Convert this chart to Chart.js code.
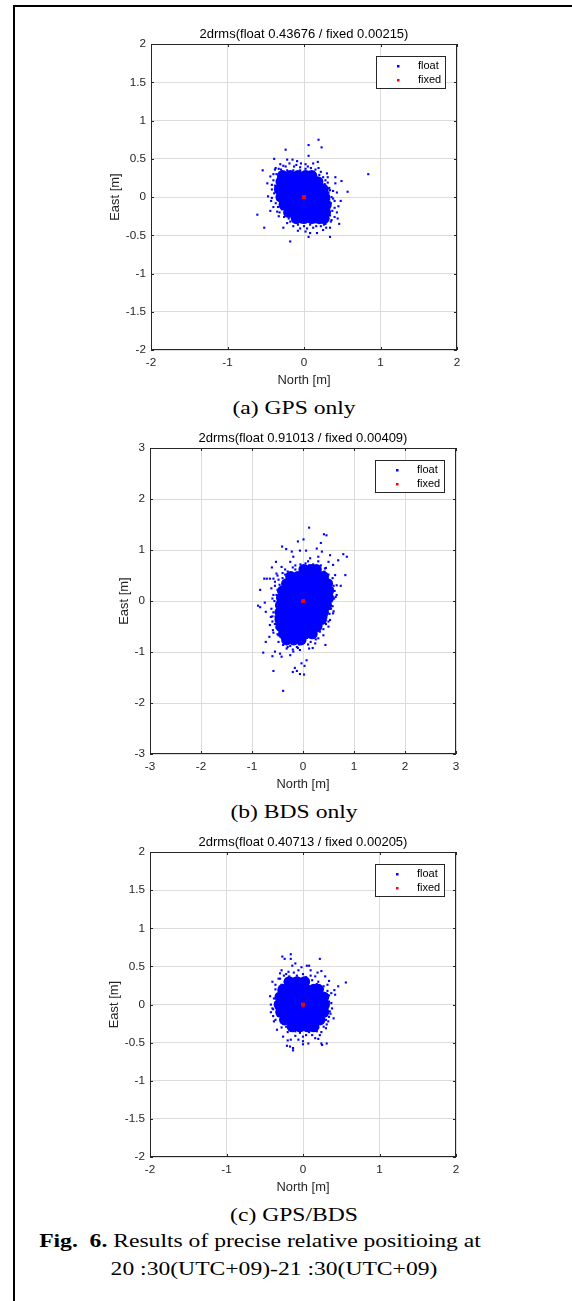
<!DOCTYPE html>
<html>
<head>
<meta charset="utf-8">
<title>Results of precise relative positioning</title>
<script src="https://cdn.jsdelivr.net/npm/chart.js@4.4.0/dist/chart.umd.min.js"></script>
<style>
  html, body { margin: 0; padding: 0; background: #fff; }
  body { width: 572px; height: 1301px; position: relative; overflow: hidden; }
  .frame { position: absolute; left: 13px; top: 5px; width: 700px; height: 1400px;
           border-left: 2px solid #000; border-top: 2px solid #000; }
  .plot { position: absolute; left: 0; width: 572px; }
  .cap { position: absolute; white-space: nowrap; color: #000;
         font-family: "Liberation Serif", "Times New Roman", serif;
         font-size: 19.5px; line-height: 19.5px;
         transform: translateX(-50%) scaleX(1.21); }
</style>
</head>
<body>
<div class="frame"></div>

<div class="plot" id="wrapGps"><canvas id="chartGps"></canvas></div>
<div class="cap" style="left:294px; top:398px;">(a) GPS only</div>

<div class="plot" id="wrapBds"><canvas id="chartBds"></canvas></div>
<div class="cap" style="left:294px; top:802px;">(b) BDS only</div>

<div class="plot" id="wrapComb"><canvas id="chartComb"></canvas></div>
<div class="cap" style="left:294px; top:1205px;">(c) GPS/BDS</div>

<div class="cap" style="left:260px; top:1231px;"><b>Fig.&nbsp; 6.</b> Results of precise relative positioing at</div>
<div class="cap" style="left:274px; top:1259px;">20 :30(UTC+09)-21 :30(UTC+09)</div>

<script>
// Scatter of float / fixed solutions, North vs East [m]

const legendLabels = ['float', 'fixed'];

// (a) GPS only
const gpsTitle = '2drms(float 0.43676 / fixed 0.00215)';
const gpsTicks = [-2, -1, 0, 1, 2];
const gpsYTicks = [-2, -1.5, -1, -0.5, 0, 0.5, 1, 1.5, 2];
// dense centre of the cloud
const gpsCore = [
  [-0.28, 0.28], [-0.18, 0.28], [-0.08, 0.28], [0.02, 0.28], [0.1, 0.28],
  [-0.3, 0.2], [-0.2, 0.2], [-0.1, 0.2], [0, 0.2], [0.1, 0.2], [0.18, 0.2],
  [-0.32, 0.1], [-0.22, 0.1], [-0.12, 0.1], [-0.02, 0.1], [0.08, 0.1], [0.18, 0.1], [0.25, 0.1],
  [-0.3, 0], [-0.2, 0], [-0.1, 0], [0, 0], [0.1, 0], [0.2, 0], [0.27, 0],
  [-0.26, -0.1], [-0.16, -0.1], [-0.06, -0.1], [0.04, -0.1], [0.14, -0.1], [0.24, -0.1], [0.29, -0.1],
  [-0.2, -0.2], [-0.1, -0.2], [0, -0.2], [0.1, -0.2], [0.2, -0.2], [0.28, -0.2],
  [-0.1, -0.28], [0, -0.28], [0.1, -0.28], [0.2, -0.28], [0.26, -0.28]
];
const gpsFloat = [
  [0.19, 0.75], [0.06, 0.68], [0.23, 0.65], [-0.24, 0.62], [0.06, 0.54], [0.84, 0.30],
  [-0.39, 0.50], [-0.54, 0.35], [-0.61, -0.23], [-0.52, -0.40], [-0.18, -0.58], [0.57, 0.07],
  [0.49, 0.21], [0.41, 0.26], [0.46, -0.35], [0.34, -0.52], [0.06, -0.52], [0.17, -0.47],
  [-0.27, -0.40], [0.18, 0.46], [-0.09, 0.47], [-0.15, 0.49], [-0.22, 0.49], [-0.04, 0.44],
  [0.02, 0.43], [0.30, 0.31], [0.31, 0.26], [0.41, 0.18], [0.43, 0.06], [0.40, -0.05],
  [0.40, -0.14], [0.40, -0.26], [0.34, -0.40], [0.25, -0.43], [0.02, -0.45], [-0.14, -0.38],
  [-0.33, -0.25], [-0.40, -0.13], [-0.47, 0.01], [-0.48, 0.18], [-0.44, 0.27], [-0.37, 0.38],
  [-0.31, 0.43], [0.08, -0.47], [-0.05, -0.41], [0.26, -0.36], [0.35, -0.32], [0.32, -0.20],
  [-0.42, 0.10], [-0.43, -0.05], [-0.35, -0.19], [-0.22, -0.34], [0.19, 0.38], [0.12, 0.44],
  [0.43, -0.2], [0.45, -0.12], [0.48, -0.05],
  [-0.36, 0.3], [-0.3, 0.36], [-0.24, 0.4], [-0.1, 0.42], [0.05, 0.4], [0.15, 0.36],
  [0.22, 0.33], [0.28, 0.22], [0.33, 0.12], [0.36, 0.0], [0.35, -0.08], [0.34, -0.24],
  [0.3, -0.3], [0.22, -0.38], [0.12, -0.4], [0.0, -0.38], [-0.08, -0.36], [-0.18, -0.32],
  [-0.26, -0.26], [-0.32, -0.2], [-0.37, -0.08], [-0.39, 0.05], [-0.38, 0.15], [-0.4, 0.22],
  [-0.33, 0.37], [-0.27, 0.41], [-0.19, 0.44], [-0.13, 0.40], [-0.05, 0.39], [0.02, 0.37],
  [0.09, 0.38], [0.13, 0.33], [0.2, 0.29], [0.25, 0.26], [0.27, 0.17], [0.31, 0.19],
  [0.32, 0.06], [0.34, 0.09], [0.33, -0.03], [0.38, -0.02], [0.33, -0.15], [0.37, -0.18],
  [0.32, -0.28], [0.36, -0.3], [0.28, -0.35], [0.2, -0.34], [0.16, -0.38], [0.08, -0.36],
  [0.04, -0.41], [-0.04, -0.33], [-0.1, -0.33], [-0.14, -0.3], [-0.2, -0.28], [-0.24, -0.22],
  [-0.29, -0.16], [-0.34, -0.13], [-0.35, -0.03], [-0.42, -0.01], [-0.35, 0.06], [-0.37, 0.12],
  [-0.42, 0.16], [-0.35, 0.2], [-0.34, 0.25], [-0.4, 0.3], [-0.3, 0.32], [-0.22, 0.35],
  [-0.14, 0.35], [-0.05, 0.35], [0.06, 0.33], [0.15, 0.28], [0.22, 0.21], [0.28, 0.15],
  [0.3, -0.06], [0.27, -0.24], [0.15, -0.33], [-0.16, -0.25], [-0.28, -0.1], [-0.33, 0.0],
  [-0.38, 0.36], [0.38, 0.08], [0.44, -0.28], [0.29, -0.4], [-0.08, -0.44], [-0.44, -0.18]
];
const gpsFixed = [[0, 0], [0.004, 0.003], [-0.003, -0.002]];

// (b) BDS only
const bdsTitle = '2drms(float 0.91013 / fixed 0.00409)';
const bdsTicks = [-3, -2, -1, 0, 1, 2, 3];
const bdsYTicks = [-3, -2, -1, 0, 1, 2, 3];
const bdsCore = [
  [0.02, 0.62], [0.16, 0.62], [0.26, 0.62],
  [-0.24, 0.48], [-0.1, 0.48], [0.04, 0.48], [0.18, 0.48], [0.32, 0.48], [0.4, 0.48],
  [-0.32, 0.34], [-0.18, 0.34], [-0.04, 0.34], [0.1, 0.34], [0.24, 0.34], [0.38, 0.34], [0.48, 0.34],
  [-0.4, 0.2], [-0.26, 0.2], [-0.12, 0.2], [0.02, 0.2], [0.16, 0.2], [0.3, 0.2], [0.44, 0.2], [0.5, 0.2],
  [-0.42, 0.06], [-0.28, 0.06], [-0.14, 0.06], [0, 0.06], [0.14, 0.06], [0.28, 0.06], [0.42, 0.06], [0.5, 0.06],
  [-0.44, -0.08], [-0.3, -0.08], [-0.16, -0.08], [-0.02, -0.08], [0.12, -0.08], [0.26, -0.08], [0.4, -0.08], [0.46, -0.08],
  [-0.45, -0.22], [-0.31, -0.22], [-0.17, -0.22], [-0.03, -0.22], [0.11, -0.22], [0.25, -0.22], [0.4, -0.22],
  [-0.45, -0.36], [-0.31, -0.36], [-0.17, -0.36], [-0.03, -0.36], [0.11, -0.36], [0.25, -0.36], [0.36, -0.36],
  [-0.43, -0.5], [-0.29, -0.5], [-0.15, -0.5], [-0.01, -0.5], [0.13, -0.5], [0.27, -0.5],
  [-0.38, -0.64], [-0.24, -0.64], [-0.1, -0.64], [0.04, -0.64], [0.18, -0.64],
  [-0.32, -0.76], [-0.18, -0.76], [-0.04, -0.76]
];
const bdsFloat = [
  [0.12, 1.44], [0.41, 1.31], [0.46, 1.29], [0.01, 1.21], [-0.10, 1.17], [-0.41, 1.07],
  [0.35, 1.14], [0.79, 0.92], [0.86, 0.87], [-0.33, 1.02], [-0.22, 0.97], [-0.06, 0.99],
  [0.06, 0.99], [0.27, 1.03], [0.37, 0.97], [0.53, 0.90], [0.69, 0.80], [-0.53, 0.77],
  [-0.42, 0.67], [-0.61, 0.66], [0.83, 0.51], [0.74, 0.30], [-0.76, 0.44], [-0.71, 0.44],
  [-0.65, 0.44], [-0.58, 0.44], [-0.84, 0.22], [-0.88, -0.09], [-0.84, -0.12], [-0.75, -0.03],
  [-0.73, -0.21], [0.66, 0.12], [0.61, 0.05], [0.59, -0.24], [0.53, -0.37], [0.50, -0.50],
  [0.44, -0.86], [0.30, -0.73], [0.19, -0.92], [0.07, -1.16], [-0.03, -1.22], [0.03, -1.27],
  [-0.16, -1.31], [-0.20, -1.39], [-0.12, -1.37], [-0.06, -1.43], [0.02, -1.44], [-0.58, -1.37],
  [-0.39, -1.76], [-0.78, -1.01], [-0.60, -1.08], [-0.55, -0.99], [-0.42, -1.09], [-0.45, -1.03],
  [-0.73, -0.80], [-0.66, -0.70], [-0.25, -1.06], [-0.19, -0.99], [-0.06, -0.96], [0.12, -0.93],
  [-0.32, -0.93], [-0.65, -0.47], [-0.59, -0.57], [-0.63, -0.31], [0.57, 0.25], [0.66, 0.31],
  [0.63, 0.51], [0.59, 0.71], [0.50, 0.77], [0.43, 0.64], [-0.55, 0.38], [-0.58, 0.12],
  [-0.52, 0.54], [-0.25, 0.77], [0.14, 0.84], [0.30, 0.87], [-0.19, 0.87], [-0.48, -0.67],
  [-0.39, -0.86], [-0.12, -0.90], [0.24, -0.83], [0.40, -0.67],
  [-0.5, 0.5], [-0.55, 0.3], [-0.6, 0.05], [-0.62, -0.15], [-0.6, -0.4], [-0.58, -0.62],
  [-0.48, -0.8], [-0.3, -0.9], [-0.1, -0.92], [0.1, -0.85], [0.25, -0.75], [0.4, -0.55],
  [0.5, -0.4], [0.58, -0.1], [0.62, 0.2], [0.58, 0.45], [0.45, 0.65], [0.3, 0.78],
  [0.1, 0.78], [-0.15, 0.7], [-0.35, 0.62],
  [-0.4, 0.55], [-0.3, 0.58], [-0.2, 0.66], [-0.05, 0.72], [0.05, 0.74], [0.2, 0.72],
  [0.35, 0.7], [0.42, 0.58], [0.5, 0.52], [0.55, 0.38], [0.6, 0.3], [0.56, 0.15],
  [0.64, 0.08], [0.56, 0.0], [0.55, -0.15], [0.52, -0.25], [0.46, -0.32], [0.45, -0.45],
  [0.36, -0.48], [0.33, -0.6], [0.25, -0.62], [0.2, -0.72], [0.08, -0.72], [0.0, -0.82],
  [-0.08, -0.85], [-0.2, -0.84], [-0.25, -0.88], [-0.38, -0.78], [-0.42, -0.7], [-0.5, -0.65],
  [-0.52, -0.52], [-0.55, -0.45], [-0.54, -0.3], [-0.58, -0.22], [-0.52, -0.1], [-0.56, 0.0],
  [-0.52, 0.12], [-0.5, 0.22], [-0.46, 0.32], [-0.48, 0.42], [-0.4, 0.45], [-0.35, 0.52],
  [-0.15, 0.62], [0.12, 0.7], [0.28, 0.65], [0.48, 0.45], [0.58, 0.25], [0.5, -0.05],
  [0.42, -0.4], [0.3, -0.55], [-0.45, -0.6], [-0.6, -0.3], [-0.62, 0.25], [-0.2, -0.95],
  [0.15, -0.8], [0.6, -0.2]
];
const bdsFixed = [[0, 0], [0.006, 0.005], [-0.005, -0.004]];

// (c) GPS/BDS
const combTitle = '2drms(float 0.40713 / fixed 0.00205)';
const combTicks = [-2, -1, 0, 1, 2];
const combYTicks = [-2, -1.5, -1, -0.5, 0, 0.5, 1, 1.5, 2];
const combCore = [
  [-0.18, 0.3], [-0.08, 0.3], [0.02, 0.3],
  [-0.26, 0.2], [-0.16, 0.2], [-0.06, 0.2], [0.04, 0.2], [0.14, 0.2], [0.2, 0.2],
  [-0.3, 0.1], [-0.2, 0.1], [-0.1, 0.1], [0, 0.1], [0.1, 0.1], [0.2, 0.1], [0.27, 0.1],
  [-0.31, 0], [-0.21, 0], [-0.11, 0], [-0.01, 0], [0.09, 0], [0.19, 0], [0.28, 0],
  [-0.29, -0.1], [-0.19, -0.1], [-0.09, -0.1], [0.01, -0.1], [0.11, -0.1], [0.21, -0.1], [0.27, -0.1],
  [-0.24, -0.2], [-0.14, -0.2], [-0.04, -0.2], [0.06, -0.2], [0.16, -0.2], [0.22, -0.2],
  [-0.14, -0.29], [-0.04, -0.29], [0.06, -0.29], [0.14, -0.29]
];
const combFloat = [
  [-0.27, 0.63], [-0.24, 0.60], [-0.16, 0.66], [-0.16, 0.60], [0.22, 0.60], [0.05, 0.51],
  [0.08, 0.51], [-0.02, 0.49], [-0.14, 0.51], [0.19, 0.42], [0.24, 0.44], [0.56, 0.29],
  [0.46, 0.24], [0.41, 0.19], [0.34, 0.31], [0.37, 0.15], [0.42, 0.13], [-0.43, 0.11],
  [-0.40, -0.05], [-0.39, -0.15], [-0.34, -0.33], [-0.30, 0.41], [-0.36, 0.26], [-0.32, 0.34],
  [-0.21, -0.54], [-0.17, -0.55], [-0.13, -0.57], [-0.16, -0.46], [0.00, -0.48], [0.07, -0.51],
  [0.24, -0.51], [0.31, -0.51], [0.30, -0.31], [0.33, -0.22], [0.35, -0.09], [0.22, -0.40],
  [0.16, -0.44], [-0.06, -0.46], [-0.26, -0.42], [0.29, 0.37], [0.16, 0.37], [-0.06, 0.45],
  [-0.19, 0.43], [-0.10, 0.54], [-0.13, -0.60], [0.25, -0.53],
  [-0.3, 0.34], [-0.22, 0.4], [-0.12, 0.42], [0.0, 0.4], [0.1, 0.38], [0.2, 0.3],
  [0.27, 0.24], [0.34, 0.12], [0.37, 0.02], [0.36, -0.12], [0.31, -0.26], [0.24, -0.36],
  [0.12, -0.4], [0.0, -0.42], [-0.1, -0.41], [-0.2, -0.36], [-0.28, -0.3], [-0.36, -0.2],
  [-0.39, -0.06], [-0.38, 0.08], [-0.36, 0.2],
  [-0.25, 0.38], [-0.18, 0.37], [-0.08, 0.38], [0.04, 0.36], [0.12, 0.32], [0.18, 0.27],
  [0.26, 0.2], [0.32, 0.18], [0.3, 0.08], [0.34, 0.04], [0.32, -0.05], [0.34, -0.16],
  [0.3, -0.2], [0.27, -0.29], [0.2, -0.3], [0.18, -0.35], [0.08, -0.36], [0.04, -0.4],
  [-0.04, -0.37], [-0.1, -0.35], [-0.16, -0.33], [-0.22, -0.29], [-0.27, -0.24], [-0.33, -0.14],
  [-0.35, -0.05], [-0.36, 0.03], [-0.34, 0.12], [-0.32, 0.18], [-0.28, 0.26], [-0.24, 0.3],
  [-0.38, -0.22], [-0.42, 0.0], [0.38, -0.05], [0.32, 0.26], [0.1, 0.45], [-0.28, 0.45],
  [0.2, -0.45], [-0.2, -0.47], [0.0, -0.52], [0.4, -0.18], [-0.42, -0.1], [-0.4, 0.3]
];
const combFixed = [[0, 0], [0.004, 0.003], [-0.003, -0.002]];

const SANS = "'Liberation Sans', Arial, Helvetica, sans-serif";
const BLUE = '#0000ff';
const RED = '#ff0000';
const AXIS = '#262626';
const GRID = '#dcdcdc';

function toPts(arr) {
  return arr.map(p => ({ x: p[0], y: p[1] }));
}

// box, inward tick marks and the small legend, drawn the MATLAB way
const matlabAxes = {
  id: 'matlabAxes',
  afterDraw(chart, args, opts) {
    const { ctx, chartArea: a, scales } = chart;
    const L = Math.round(a.left), R = Math.round(a.right);
    const T = Math.round(a.top), B = Math.round(a.bottom);
    ctx.save();
    ctx.strokeStyle = AXIS;
    ctx.lineWidth = 1;
    ctx.strokeRect(L + 0.5, T + 0.5, R - L - 1, B - T - 1);

    const len = 3;
    ctx.beginPath();
    scales.x.ticks.forEach(t => {
      const px = Math.round(scales.x.getPixelForValue(t.value)) + 0.5;
      ctx.moveTo(px, B); ctx.lineTo(px, B - len);
      ctx.moveTo(px, T); ctx.lineTo(px, T + len);
    });
    scales.y.ticks.forEach(t => {
      const py = Math.round(scales.y.getPixelForValue(t.value)) + 0.5;
      ctx.moveTo(L, py); ctx.lineTo(L + len, py);
      ctx.moveTo(R, py); ctx.lineTo(R - len, py);
    });
    ctx.stroke();

    // legend box in the upper right corner
    const bw = 69, bh = 32;
    const bx = R - 12 - bw, by = T + 12;
    ctx.fillStyle = '#fff';
    ctx.fillRect(bx, by, bw, bh);
    ctx.strokeRect(bx + 0.5, by + 0.5, bw, bh);
    ctx.font = '11px ' + SANS;
    ctx.textBaseline = 'middle';
    opts.items.forEach((item, i) => {
      const ry = by + 10 + i * 14;
      ctx.fillStyle = item.color;
      ctx.fillRect(bx + 21, ry - 1, 2.5, 2.5);
      ctx.fillStyle = '#000';
      ctx.fillText(item.text, bx + 42, ry);
    });
    ctx.restore();
  }
};

function makePlot(wrapId, canvasId, area, ylabelX, title, xTicks, yTicks, core, floats, fixed) {
  const titleBlock = 17.1;
  const xAxisHeight = 38;
  const top = area.top - titleBlock;
  const wrap = document.getElementById(wrapId);
  wrap.style.top = top + 'px';
  wrap.style.height = (area.bottom + xAxisHeight - top) + 'px';

  const padLeft = ylabelX - 7.74;
  const tickFont = { family: SANS, size: 11.7 };
  const labelFont = { family: SANS, size: 12.9 };

  // first dataset is painted last, so the red fixed points stay on top
  return new Chart(document.getElementById(canvasId), {
    type: 'scatter',
    data: {
      datasets: [
        { label: legendLabels[1], data: toPts(fixed), pointStyle: 'rect', pointRadius: 2.4,
          backgroundColor: RED, borderWidth: 0 },
        { label: legendLabels[0], data: toPts(floats), pointStyle: 'rect', pointRadius: 1.5,
          backgroundColor: BLUE, borderWidth: 0 },
        { label: legendLabels[0], data: toPts(core), pointStyle: 'circle', pointRadius: 5.6,
          backgroundColor: BLUE, borderWidth: 0 }
      ]
    },
    options: {
      responsive: true,
      maintainAspectRatio: false,
      animation: false,
      events: [],
      layout: { padding: { left: padLeft, right: 572 - area.right, top: 0, bottom: 0 } },
      plugins: {
        legend: { display: false },
        tooltip: { enabled: false },
        title: {
          display: true, text: title, fullSize: false, color: '#000',
          font: { family: SANS, size: 13, weight: 'normal' },
          padding: { top: 0, bottom: 1.5 }
        },
        matlabAxes: {
          items: [{ text: legendLabels[0], color: BLUE }, { text: legendLabels[1], color: RED }]
        }
      },
      scales: {
        x: {
          type: 'linear',
          min: xTicks[0], max: xTicks[xTicks.length - 1],
          afterBuildTicks: s => { s.ticks = xTicks.map(v => ({ value: v })); },
          afterFit: s => { s.height = xAxisHeight; },
          grid: { color: GRID, lineWidth: 1, drawTicks: false },
          border: { display: false },
          ticks: { autoSkip: false, maxRotation: 0, padding: 5.5, color: AXIS, font: tickFont,
                   callback: v => String(v) },
          title: { display: true, text: 'North [m]', color: AXIS, font: labelFont,
                   padding: { top: 0, bottom: 0 } }
        },
        y: {
          type: 'linear',
          min: yTicks[0], max: yTicks[yTicks.length - 1],
          afterBuildTicks: s => { s.ticks = yTicks.map(v => ({ value: v })); },
          afterFit: s => { s.width = area.left - padLeft; },
          grid: { color: GRID, lineWidth: 1, drawTicks: false },
          border: { display: false },
          ticks: { autoSkip: false, padding: 5, color: AXIS, font: tickFont,
                   callback: v => String(v) },
          title: { display: true, text: 'East [m]', color: AXIS, font: labelFont,
                   padding: { top: 0, bottom: 0 } }
        }
      }
    },
    plugins: [matlabAxes]
  });
}

makePlot('wrapGps', 'chartGps', { left: 151, right: 457, top: 44, bottom: 350 }, 115,
  gpsTitle, gpsTicks, gpsYTicks, gpsCore, gpsFloat, gpsFixed);
makePlot('wrapBds', 'chartBds', { left: 150, right: 456, top: 448, bottom: 754 }, 124,
  bdsTitle, bdsTicks, bdsYTicks, bdsCore, bdsFloat, bdsFixed);
makePlot('wrapComb', 'chartComb', { left: 150, right: 456, top: 852, bottom: 1157 }, 114,
  combTitle, combTicks, combYTicks, combCore, combFloat, combFixed);
</script>
</body>
</html>
